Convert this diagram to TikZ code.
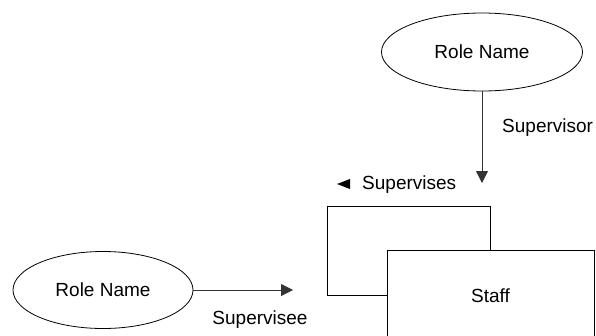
\documentclass[tikz,border=0pt]{standalone}
\usepackage{fontspec}
\setmainfont{Liberation Sans}
\usetikzlibrary{shapes.geometric,arrows.meta}
\begin{document}
\begin{tikzpicture}[x=1pt,y=-1pt,
  every node/.style={font=\fontsize{19}{22}\selectfont},
  rolebox/.style={draw, ellipse, line width=0.8pt, inner sep=0pt},
  entbox/.style={draw, rectangle, line width=0.8pt, fill=white, inner sep=0pt},
  conn/.style={line width=0.8pt, draw=black!80, -{Triangle[length=12pt,width=12pt]}},
  lbl/.style={inner sep=0pt}]
\useasboundingbox (0,0) rectangle (596,335);
\clip (0,0) rectangle (596,335);
% roles
\node[rolebox, minimum width=201pt, minimum height=78pt] (roleA) at (482,52) {Role Name};
\node[rolebox, minimum width=180pt, minimum height=77pt] (roleB) at (103,290) {Role Name};
% entity boxes
\node[entbox, minimum width=163pt, minimum height=89pt] (back) at (408.5,251) {};
\node[entbox, minimum width=207pt, minimum height=100pt] (front) at (490.5,300) {};
\node (staff) at (490.5,296) {Staff};
% connector end points
\coordinate (endA) at (482,183);
\coordinate (endB) at (293,290);
\draw[conn] (roleA.south) -- (endA);
\draw[conn] (roleB.east) -- (endB);
% labels
\node[lbl, anchor=west] (lsup) at (502,128) {Supervisor};
\node[lbl] (lsee) at (260,320) {Supervisee};
\node[lbl, anchor=west] (lses) at (362,185) {Supervises};
\coordinate (tri) at (343.5,184);
\fill ([shift={(-6.5,0)}]tri) -- ([shift={(6.5,-5)}]tri) -- ([shift={(6.5,5)}]tri) -- cycle;
\end{tikzpicture}
\end{document}
